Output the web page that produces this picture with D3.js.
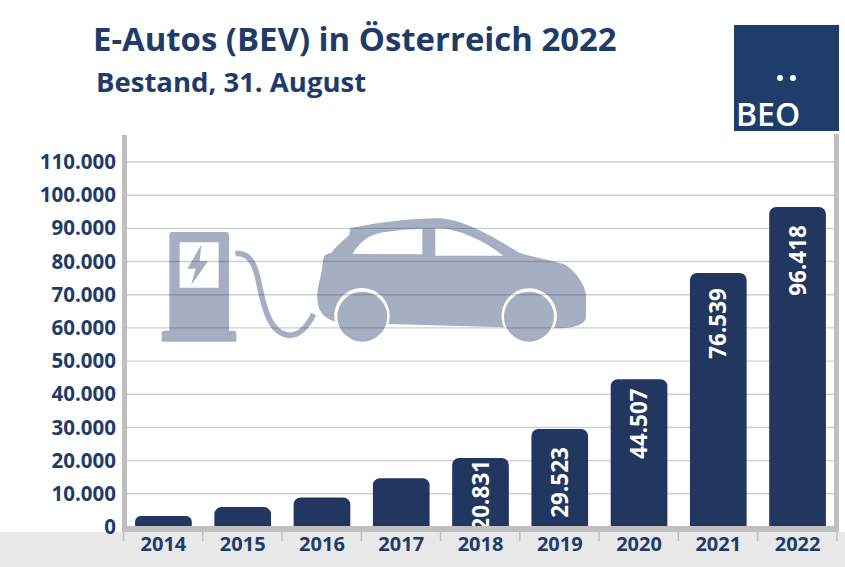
<!DOCTYPE html>
<html>
<head>
<meta charset="utf-8">
<script src="https://cdn.jsdelivr.net/npm/d3@7"></script>
<style>
html, body { margin: 0; padding: 0; background: #fff; }
svg { display: block; }
text { font-family: "Open Sans", sans-serif; font-weight: 700; }
</style>
</head>
<body>
<svg id="chart" width="845" height="567"></svg>
<script>
var years = ['2014', '2015', '2016', '2017', '2018', '2019', '2020', '2021', '2022'];
var stock = [3300, 6000, 8900, 14700, 20831, 29523, 44507, 76539, 96418];
var labelled = ['2018', '2019', '2020', '2021', '2022'];
var yTicks = [0, 10000, 20000, 30000, 40000, 50000, 60000, 70000, 80000, 90000, 100000, 110000];

var navy = '#21375f';
var textNavy = '#1f3b69';
var frame = '#bfbfbf';
var svg = d3.select('#chart');

var x = d3.scaleBand().domain(years).range([124, 837]).paddingInner(0.285).paddingOuter(0.14);
var y = d3.scaleLinear().domain([0, 110000]).range([527, 162]);
var fmt = function(d) { return d3.format(',')(d).replace(/,/g, '.'); };

// label inset below the bar top, they are not placed evenly in the original
var labelInset = { '2018': 2, '2019': 18, '2020': 9, '2021': 15, '2022': 18 };

// grey strip along the bottom
svg.append('rect').attr('x', 0).attr('y', 532).attr('width', 845).attr('height', 35).attr('fill', '#e8e8e8');

// grid
svg.append('g').selectAll('line')
    .data(yTicks.slice(1))
    .enter().append('line')
    .attr('x1', 127).attr('x2', 834)
    .attr('y1', function(d) { return y(d); })
    .attr('y2', function(d) { return y(d); })
    .attr('stroke', '#cfcfcf')
    .attr('stroke-width', 1.4);

// y axis
var yAxis = svg.append('g')
    .attr('transform', 'translate(124,0)')
    .call(d3.axisLeft(y).tickValues(yTicks).tickFormat(fmt).tickSize(0).tickPadding(8));
yAxis.select('.domain').remove();
yAxis.selectAll('text').attr('fill', textNavy).style('font-size', '20.5px').style('font-family', '"Open Sans", sans-serif').style('font-weight', 700);

// bars, only the top corners are rounded
function barPath(d, i) {
    var x0 = x(years[i]), w = x.bandwidth(), top = y(d), bottom = y(0);
    var r = Math.min(7, (bottom - top) / 2);
    var p = d3.path();
    p.moveTo(x0, bottom);
    p.lineTo(x0, top + r);
    p.arcTo(x0, top, x0 + r, top, r);
    p.lineTo(x0 + w - r, top);
    p.arcTo(x0 + w, top, x0 + w, top + r, r);
    p.lineTo(x0 + w, bottom);
    p.closePath();
    return p.toString();
}
svg.append('g').selectAll('path')
    .data(stock)
    .enter().append('path')
    .attr('d', barPath)
    .attr('fill', navy);

// value labels, rotated inside the bar
svg.append('g').selectAll('text')
    .data(labelled)
    .enter().append('text')
    .attr('transform', function(year) {
        var v = stock[years.indexOf(year)];
        return 'translate(' + (x(year) + x.bandwidth() / 2 + 8) + ',' + (y(v) + labelInset[year]) + ') rotate(-90)';
    })
    .attr('text-anchor', 'end')
    .attr('fill', '#fff')
    .style('font-size', '22.5px')
    .text(function(year) { return fmt(stock[years.indexOf(year)]); });

// frame
svg.append('rect').attr('x', 122).attr('y', 135).attr('width', 5).attr('height', 397).attr('fill', frame);
svg.append('rect').attr('x', 834).attr('y', 134).attr('width', 5).attr('height', 398).attr('fill', frame);
svg.append('rect').attr('x', 122).attr('y', 526).attr('width', 717).attr('height', 6).attr('fill', frame);

// x axis
var xAxis = svg.append('g')
    .attr('transform', 'translate(0,532)')
    .call(d3.axisBottom(x).tickSize(0).tickPadding(5));
xAxis.select('.domain').remove();
xAxis.selectAll('text').attr('fill', textNavy).style('font-size', '20px').style('font-family', '"Open Sans", sans-serif').style('font-weight', 700);
svg.append('g').selectAll('line')
    .data(years.concat(['end']))
    .enter().append('line')
    .attr('x1', function(d, i) { return 123.5 + i * x.step(); })
    .attr('x2', function(d, i) { return 123.5 + i * x.step(); })
    .attr('y1', 532).attr('y2', 541)
    .attr('stroke', frame).attr('stroke-width', 1.5);

// charging station and car, traced in a 3x space
var icon = svg.append('g')
    .attr('transform', 'translate(130,200) scale(0.3333)')
    .attr('fill', '#1f3864')
    .attr('fill-opacity', 0.4);
icon.append('path')
    .attr('fill-rule', 'evenodd')
    .attr('d', 'M127,96 H288 Q297,96 297,105 V392 H311 Q319,392 319,400 V425 H95 V400 Q95,392 103,392 H118 V105 Q118,96 127,96 Z' +
        'M149,127 V263 H266 V127 Z' +
        'M214,134 L172,206 L197,206 L183,256 L234,184 L209,184 Z');
icon.append('path')
    .attr('fill', 'none')
    .attr('stroke', '#1f3864')
    .attr('stroke-opacity', 0.4)
    .attr('stroke-width', 17)
    .attr('d', 'M316,161 C345,158 365,170 380,220 C395,275 405,400 478,406 C510,406 535,375 551,342');
icon.append('path')
    .attr('fill-rule', 'evenodd')
    .attr('d', 'M660,85 C740,68 840,55 920,55 C980,55 1060,90 1165,157 C1200,170 1260,180 1300,192 C1330,205 1365,250 1368,285 L1368,350 C1368,375 1330,385 1272,385 A83,83 0 1 0 1122,382 L775,372 A83,83 0 1 0 615,365 C575,350 560,330 562,280 C565,250 575,230 580,175 C585,160 600,160 605,158 C625,130 650,115 658,105 Z' +
        'M668,162 C690,125 715,105 760,97 C800,90 840,87 877,86 L877,163 Z' +
        'M916,86 C960,82 1040,105 1120,167 L916,167 Z');
icon.selectAll('circle')
    .data([697, 1197])
    .enter().append('circle')
    .attr('cx', function(d) { return d; })
    .attr('cy', 350)
    .attr('r', 75);

// titles
svg.append('text').attr('x', 93).attr('y', 51).attr('fill', textNavy).style('font-size', '32.9px').text('E-Autos (BEV) in Österreich 2022');
svg.append('text').attr('x', 96).attr('y', 92).attr('fill', textNavy).style('font-size', '27.5px').text('Bestand, 31. August');

// logo
svg.append('rect').attr('x', 734).attr('y', 25).attr('width', 105).attr('height', 106).attr('fill', '#1f3d6b');
svg.append('circle').attr('cx', 780).attr('cy', 78).attr('r', 3).attr('fill', '#fff');
svg.append('circle').attr('cx', 793).attr('cy', 78).attr('r', 3).attr('fill', '#fff');
svg.append('text').attr('x', 736).attr('y', 126).attr('fill', '#fff').style('font-size', '32px').style('font-weight', 600).text('BEO');
</script>
</body>
</html>
